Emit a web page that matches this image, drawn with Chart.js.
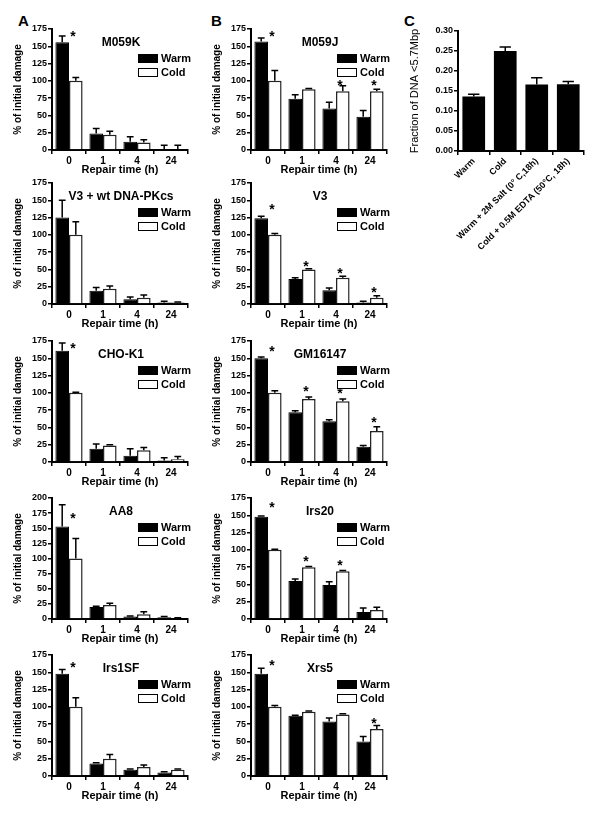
<!DOCTYPE html>
<html>
<head>
<meta charset="utf-8">
<script src="https://cdn.jsdelivr.net/npm/chart.js@4/dist/chart.umd.min.js"></script>
<style>
  body { margin: 0; background: #fff; font-family: "Liberation Sans", Arial, sans-serif; }
  #fig { position: relative; width: 600px; height: 825px; }
  .panel { position: absolute; }
  .panel canvas { position: absolute; left: 0; top: 0; }
  .title { position: absolute; font-weight: bold; font-size: 12px; transform: translate(-50%, -50%); white-space: nowrap; }
  .leg { position: absolute; font-weight: bold; font-size: 11px; display: flex; align-items: center; transform: translateY(-50%); }
  .leg span { display: inline-block; width: 18px; height: 7px; border: 1px solid #000; margin-right: 3px; }
  .letter { position: absolute; font-weight: bold; font-size: 15px; }
</style>
</head>
<body>
<div id="fig">
  <div class="letter" style="left:18px;top:12px">A</div>
  <div class="letter" style="left:211px;top:12px">B</div>
  <div class="letter" style="left:404px;top:12px">C</div>
</div>
<script>
// Repair-time categories
const repairTimes = ['0', '1', '4', '24'];

// Column A
const m059kWarm = [156, 24, 12, 0],  m059kWarmErr = [9, 7, 7, 7];
const m059kCold = [100, 22, 11, 0],  m059kColdErr = [5, 5, 4, 7];
const m059kStars = [168, null, null, null];

const v3wtWarm = [125, 19, 7, 2],    v3wtWarmErr = [25, 5, 3, 2];
const v3wtCold = [100, 22, 9, 2],    v3wtColdErr = [19, 4, 4, 1];
const v3wtStars = [null, null, null, null];

const chok1Warm = [161, 19, 9, 2],   chok1WarmErr = [11, 7, 10, 4];
const chok1Cold = [100, 24, 17, 4],  chok1ColdErr = [1, 1, 4, 4];
const chok1Stars = [168, null, null, null];

const aa8Warm = [153, 20, 4, 3],     aa8WarmErr = [36, 1, 1, 1];
const aa8Cold = [100, 23, 8, 1],     aa8ColdErr = [33, 3, 4, 1];
const aa8Stars = [170, null, null, null];

const irs1sfWarm = [148, 18, 9, 5],  irs1sfWarmErr = [6, 1, 1, 1];
const irs1sfCold = [100, 25, 13, 9], irs1sfColdErr = [13, 6, 3, 1];
const irs1sfStars = [160, null, null, null];

// Column B
const m059jWarm = [157, 74, 60, 48], m059jWarmErr = [5, 6, 9, 9];
const m059jCold = [100, 88, 85, 85], m059jColdErr = [15, 1, 8, 3];
const m059jStars = [168, null, 97, 97];

const v3Warm = [124, 36, 20, 2],     v3WarmErr = [3, 2, 3, 2];
const v3Cold = [100, 50, 38, 9],     v3ColdErr = [2, 1, 2, 3];
const v3Stars = [140, 58, 48, 20];

const gmWarm = [150, 72, 59, 22],    gmWarmErr = [2, 2, 2, 2];
const gmCold = [100, 91, 88, 45],    gmColdErr = [3, 3, 3, 6];
const gmStars = [163, 105, 103, 60];

const irs20Warm = [148, 55, 49, 10], irs20WarmErr = [1, 3, 5, 6];
const irs20Cold = [100, 75, 69, 13], irs20ColdErr = [1, 1, 1, 4];
const irs20Stars = [165, 87, 81, null];

const xrs5Warm = [148, 87, 79, 50],  xrs5WarmErr = [8, 1, 5, 7];
const xrs5Cold = [100, 93, 89, 68],  xrs5ColdErr = [2, 1, 1, 5];
const xrs5Stars = [163, null, null, 80];

// Column C
const treatments = ['Warm', 'Cold', 'Warm + 2M Salt (0\u00B0 C,18h)', 'Cold + 0.5M EDTA (50\u00B0C, 18h)'];
const fraction = [0.136, 0.250, 0.166, 0.167];
const fractionErr = [0.006, 0.010, 0.017, 0.007];

const FONT = '"Liberation Sans", Arial, sans-serif';

const errorBars = {
    id: 'errorBars',
    afterDatasetsDraw(chart, args, opts) {
        const ctx = chart.ctx;
        const y = chart.scales.y;
        const x = chart.scales.x;
        ctx.save();
        ctx.strokeStyle = '#000';
        ctx.lineWidth = 1.5;
        chart.data.datasets.forEach((ds, i) => {
            const meta = chart.getDatasetMeta(i);
            meta.data.forEach((bar, j) => {
                const e = ds.err[j];
                const top = y.getPixelForValue(ds.data[j]);
                const end = y.getPixelForValue(ds.data[j] + e);
                const half = bar.width / 4;
                ctx.beginPath();
                ctx.moveTo(bar.x, top);
                ctx.lineTo(bar.x, end);
                ctx.moveTo(bar.x - half, end);
                ctx.lineTo(bar.x + half, end);
                ctx.stroke();
            });
        });
        if (opts.stars) {
            ctx.fillStyle = '#000';
            ctx.font = 'bold 14px ' + FONT;
            ctx.textAlign = 'center';
            ctx.textBaseline = 'middle';
            opts.stars.forEach((s, j) => {
                if (s === null) return;
                ctx.fillText('*', x.getPixelForValue(j) + 4, y.getPixelForValue(s) + 3);
            });
        }
        ctx.restore();
    }
};

function axisBase() {
    return {
        grid: { drawOnChartArea: false, drawTicks: true, tickLength: 4, color: '#000', lineWidth: 1.5 },
        border: { color: '#000', width: 2 },
        ticks: { color: '#000', font: { family: FONT, size: 9, weight: 'bold' }, padding: 1 }
    };
}

function makeRepairPanel(left, top, name, warm, warmErr, cold, coldErr, stars, yMax) {
    const fig = document.getElementById('fig');
    const div = document.createElement('div');
    div.className = 'panel';
    div.style.left = left + 'px';
    div.style.top = top + 'px';
    div.style.width = '186px';
    div.style.height = '166px';
    div.innerHTML = `
        <canvas width="186" height="166"></canvas>
        <div class="title" style="left:111px;top:27px">${name}</div>
        <div class="leg" style="left:128px;top:43px"><span style="background:#000"></span>Warm</div>
        <div class="leg" style="left:128px;top:57px"><span style="background:#fff"></span>Cold</div>`;
    fig.appendChild(div);

    const xAxis = axisBase();
    xAxis.ticks.font = { family: FONT, size: 10, weight: 'bold' };
    xAxis.title = { display: true, text: 'Repair time (h)', color: '#000', font: { family: FONT, size: 11, weight: 'bold' }, padding: { top: 1 } };
    xAxis.afterFit = s => { s.height = 31; };
    xAxis.offset = true;

    const yAxis = axisBase();
    yAxis.min = 0;
    yAxis.max = yMax;
    yAxis.ticks.stepSize = 25;
    yAxis.title = { display: true, text: '% of initial damage', color: '#000', font: { family: FONT, size: 10, weight: 'bold' }, padding: 2 };
    yAxis.afterFit = s => { s.width = 42; };

    new Chart(div.querySelector('canvas'), {
        type: 'bar',
        data: {
            labels: repairTimes,
            datasets: [
                { label: 'Warm', data: warm, err: warmErr, backgroundColor: '#000', borderColor: '#000', borderWidth: 1 },
                { label: 'Cold', data: cold, err: coldErr, backgroundColor: '#fff', borderColor: '#222', borderWidth: 1.5 }
            ]
        },
        options: {
            responsive: false,
            animation: false,
            categoryPercentage: 0.8,
            barPercentage: 1.0,
            layout: { padding: { top: 14, right: 8, left: 0, bottom: 0 } },
            plugins: { legend: { display: false }, tooltip: { enabled: false }, errorBars: { stars: stars } },
            scales: { x: xAxis, y: yAxis }
        },
        plugins: [errorBars]
    });
}

const rowTops = [15, 169, 327, 484, 641];
makeRepairPanel(10, rowTops[0], 'M059K', m059kWarm, m059kWarmErr, m059kCold, m059kColdErr, m059kStars, 175);
makeRepairPanel(10, rowTops[1], 'V3 + wt DNA-PKcs', v3wtWarm, v3wtWarmErr, v3wtCold, v3wtColdErr, v3wtStars, 175);
makeRepairPanel(10, rowTops[2], 'CHO-K1', chok1Warm, chok1WarmErr, chok1Cold, chok1ColdErr, chok1Stars, 175);
makeRepairPanel(10, rowTops[3], 'AA8', aa8Warm, aa8WarmErr, aa8Cold, aa8ColdErr, aa8Stars, 200);
makeRepairPanel(10, rowTops[4], 'Irs1SF', irs1sfWarm, irs1sfWarmErr, irs1sfCold, irs1sfColdErr, irs1sfStars, 175);

makeRepairPanel(209, rowTops[0], 'M059J', m059jWarm, m059jWarmErr, m059jCold, m059jColdErr, m059jStars, 175);
makeRepairPanel(209, rowTops[1], 'V3', v3Warm, v3WarmErr, v3Cold, v3ColdErr, v3Stars, 175);
makeRepairPanel(209, rowTops[2], 'GM16147', gmWarm, gmWarmErr, gmCold, gmColdErr, gmStars, 175);
makeRepairPanel(209, rowTops[3], 'Irs20', irs20Warm, irs20WarmErr, irs20Cold, irs20ColdErr, irs20Stars, 175);
makeRepairPanel(209, rowTops[4], 'Xrs5', xrs5Warm, xrs5WarmErr, xrs5Cold, xrs5ColdErr, xrs5Stars, 175);

// Panel C
(function () {
    const fig = document.getElementById('fig');
    const div = document.createElement('div');
    div.className = 'panel';
    div.style.left = '406px';
    div.style.top = '15px';
    div.innerHTML = '<canvas width="186" height="246"></canvas>';
    fig.appendChild(div);

    const xAxis = axisBase();
    xAxis.ticks.minRotation = 45;
    xAxis.ticks.maxRotation = 45;
    xAxis.ticks.autoSkip = false;
    xAxis.ticks.font = { family: FONT, size: 9, weight: 'bold' };
    xAxis.afterFit = s => { s.height = 110; };
    xAxis.offset = true;

    const yAxis = axisBase();
    yAxis.min = 0;
    yAxis.max = 0.30;
    yAxis.ticks.stepSize = 0.05;
    yAxis.ticks.font = { family: FONT, size: 9, weight: 'bold' };
    yAxis.ticks.callback = v => v.toFixed(2);
    yAxis.title = { display: true, text: 'Fraction of DNA <5.7Mbp', color: '#000', font: { family: FONT, size: 11 }, padding: 2 };
    yAxis.afterFit = s => { s.width = 52; };

    new Chart(div.querySelector('canvas'), {
        type: 'bar',
        data: {
            labels: treatments,
            datasets: [{ data: fraction, err: fractionErr, backgroundColor: '#000', borderColor: '#000' }]
        },
        options: {
            responsive: false,
            animation: false,
            categoryPercentage: 0.8,
            barPercentage: 0.9,
            layout: { padding: { top: 16, right: 8, left: 0, bottom: 0 } },
            plugins: { legend: { display: false }, tooltip: { enabled: false }, errorBars: {} },
            scales: { x: xAxis, y: yAxis }
        },
        plugins: [errorBars]
    });
})();
</script>
</body>
</html>
